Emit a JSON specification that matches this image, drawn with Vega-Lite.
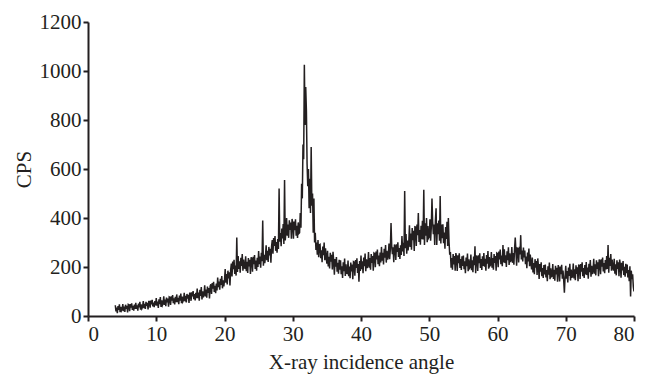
{
  "$schema": "https://vega.github.io/schema/vega-lite/v6.json",
  "width": 546,
  "height": 294,
  "autosize": {"type": "none"},
  "padding": {"left": 88, "top": 22, "right": 12, "bottom": 59},
  "background": "white",
  "config": {
    "view": {"stroke": null},
    "axis": {
      "labelFont": "Liberation Serif", "titleFont": "Liberation Serif",
      "labelFontSize": 21, "titleFontSize": 21, "titleFontWeight": "normal",
      "labelColor": "#231f20", "titleColor": "#231f20",
      "domainColor": "#231f20", "tickColor": "#231f20",
      "domainWidth": 2, "tickWidth": 2, "tickSize": 5, "grid": false, "labelPadding": 2
    }
  },
  "data": {"values": [
{"angle":4.0,"cps":44},{"angle":4.1,"cps":19},{"angle":4.2,"cps":34},{"angle":4.3,"cps":12},{"angle":4.4,"cps":41},{"angle":4.5,"cps":25},{"angle":4.6,"cps":48},{"angle":4.7,"cps":16},{"angle":4.8,"cps":37},{"angle":4.9,"cps":21},
{"angle":5.0,"cps":26},{"angle":5.1,"cps":49},{"angle":5.2,"cps":20},{"angle":5.3,"cps":38},{"angle":5.4,"cps":17},{"angle":5.5,"cps":46},{"angle":5.6,"cps":29},{"angle":5.7,"cps":42},{"angle":5.8,"cps":15},{"angle":5.9,"cps":47},
{"angle":6.0,"cps":45},{"angle":6.1,"cps":20},{"angle":6.2,"cps":49},{"angle":6.3,"cps":34},{"angle":6.4,"cps":52},{"angle":6.5,"cps":25},{"angle":6.6,"cps":41},{"angle":6.7,"cps":22},{"angle":6.8,"cps":47},{"angle":6.9,"cps":29},
{"angle":7.0,"cps":54},{"angle":7.1,"cps":29},{"angle":7.2,"cps":44},{"angle":7.3,"cps":22},{"angle":7.4,"cps":51},{"angle":7.5,"cps":35},{"angle":7.6,"cps":58},{"angle":7.7,"cps":26},{"angle":7.8,"cps":47},{"angle":7.9,"cps":31},
{"angle":8.0,"cps":38},{"angle":8.1,"cps":61},{"angle":8.2,"cps":32},{"angle":8.3,"cps":50},{"angle":8.4,"cps":29},{"angle":8.5,"cps":58},{"angle":8.6,"cps":41},{"angle":8.7,"cps":54},{"angle":8.8,"cps":27},{"angle":8.9,"cps":59},
{"angle":9.0,"cps":59},{"angle":9.1,"cps":34},{"angle":9.2,"cps":63},{"angle":9.3,"cps":48},{"angle":9.4,"cps":66},{"angle":9.5,"cps":39},{"angle":9.6,"cps":55},{"angle":9.7,"cps":36},{"angle":9.8,"cps":61},{"angle":9.9,"cps":43},
{"angle":10.0,"cps":73},{"angle":10.1,"cps":42},{"angle":10.2,"cps":59},{"angle":10.3,"cps":33},{"angle":10.4,"cps":68},{"angle":10.5,"cps":48},{"angle":10.6,"cps":77},{"angle":10.7,"cps":37},{"angle":10.8,"cps":64},{"angle":10.9,"cps":44},
{"angle":11.0,"cps":51},{"angle":11.1,"cps":80},{"angle":11.2,"cps":45},{"angle":11.3,"cps":67},{"angle":11.4,"cps":40},{"angle":11.5,"cps":75},{"angle":11.6,"cps":56},{"angle":11.7,"cps":71},{"angle":11.8,"cps":38},{"angle":11.9,"cps":78},
{"angle":12.0,"cps":76},{"angle":12.1,"cps":45},{"angle":12.2,"cps":80},{"angle":12.3,"cps":63},{"angle":12.4,"cps":85},{"angle":12.5,"cps":52},{"angle":12.6,"cps":72},{"angle":12.7,"cps":47},{"angle":12.8,"cps":78},{"angle":12.9,"cps":56},
{"angle":13.0,"cps":88},{"angle":13.1,"cps":57},{"angle":13.2,"cps":74},{"angle":13.3,"cps":48},{"angle":13.4,"cps":83},{"angle":13.5,"cps":63},{"angle":13.6,"cps":92},{"angle":13.7,"cps":52},{"angle":13.8,"cps":79},{"angle":13.9,"cps":59},
{"angle":14.0,"cps":66},{"angle":14.1,"cps":95},{"angle":14.2,"cps":60},{"angle":14.3,"cps":82},{"angle":14.4,"cps":55},{"angle":14.5,"cps":90},{"angle":14.6,"cps":71},{"angle":14.7,"cps":86},{"angle":14.8,"cps":53},{"angle":14.9,"cps":93},
{"angle":15.0,"cps":93},{"angle":15.1,"cps":62},{"angle":15.2,"cps":97},{"angle":15.3,"cps":80},{"angle":15.4,"cps":102},{"angle":15.5,"cps":69},{"angle":15.6,"cps":89},{"angle":15.7,"cps":64},{"angle":15.8,"cps":95},{"angle":15.9,"cps":73},
{"angle":16.0,"cps":112},{"angle":16.1,"cps":73},{"angle":16.2,"cps":96},{"angle":16.3,"cps":62},{"angle":16.4,"cps":107},{"angle":16.5,"cps":82},{"angle":16.6,"cps":118},{"angle":16.7,"cps":68},{"angle":16.8,"cps":101},{"angle":16.9,"cps":76},
{"angle":17.0,"cps":89},{"angle":17.1,"cps":125},{"angle":17.2,"cps":80},{"angle":17.3,"cps":108},{"angle":17.4,"cps":75},{"angle":17.5,"cps":120},{"angle":17.6,"cps":94},{"angle":17.7,"cps":114},{"angle":17.8,"cps":72},{"angle":17.9,"cps":122},
{"angle":18.0,"cps":129},{"angle":18.1,"cps":90},{"angle":18.2,"cps":135},{"angle":18.3,"cps":112},{"angle":18.4,"cps":140},{"angle":18.5,"cps":98},{"angle":18.6,"cps":123},{"angle":18.7,"cps":93},{"angle":18.8,"cps":132},{"angle":18.9,"cps":104},
{"angle":19.0,"cps":157},{"angle":19.1,"cps":118},{"angle":19.2,"cps":141},{"angle":19.3,"cps":107},{"angle":19.4,"cps":152},{"angle":19.5,"cps":127},{"angle":19.6,"cps":163},{"angle":19.7,"cps":113},{"angle":19.8,"cps":146},{"angle":19.9,"cps":121},
{"angle":20.0,"cps":146},{"angle":20.1,"cps":192},{"angle":20.2,"cps":136},{"angle":20.3,"cps":171},{"angle":20.4,"cps":129},{"angle":20.5,"cps":185},{"angle":20.6,"cps":153},{"angle":20.7,"cps":178},{"angle":20.8,"cps":125},{"angle":20.9,"cps":188},
{"angle":21.0,"cps":214},{"angle":21.1,"cps":161},{"angle":21.2,"cps":222},{"angle":21.3,"cps":191},{"angle":21.4,"cps":229},{"angle":21.5,"cps":172},{"angle":21.6,"cps":206},{"angle":21.7,"cps":165},{"angle":21.8,"cps":320},{"angle":21.9,"cps":180},
{"angle":22.0,"cps":245},{"angle":22.1,"cps":192},{"angle":22.2,"cps":223},{"angle":22.3,"cps":177},{"angle":22.4,"cps":238},{"angle":22.5,"cps":204},{"angle":22.6,"cps":253},{"angle":22.7,"cps":185},{"angle":22.8,"cps":230},{"angle":22.9,"cps":196},
{"angle":23.0,"cps":195},{"angle":23.1,"cps":244},{"angle":23.2,"cps":183},{"angle":23.3,"cps":221},{"angle":23.4,"cps":176},{"angle":23.5,"cps":237},{"angle":23.6,"cps":202},{"angle":23.7,"cps":229},{"angle":23.8,"cps":172},{"angle":23.9,"cps":240},
{"angle":24.0,"cps":234},{"angle":24.1,"cps":181},{"angle":24.2,"cps":242},{"angle":24.3,"cps":211},{"angle":24.4,"cps":249},{"angle":24.5,"cps":192},{"angle":24.6,"cps":226},{"angle":24.7,"cps":185},{"angle":24.8,"cps":238},{"angle":24.9,"cps":200},
{"angle":25.0,"cps":265},{"angle":25.1,"cps":212},{"angle":25.2,"cps":243},{"angle":25.3,"cps":197},{"angle":25.4,"cps":258},{"angle":25.5,"cps":224},{"angle":25.6,"cps":390},{"angle":25.7,"cps":205},{"angle":25.8,"cps":250},{"angle":25.9,"cps":216},
{"angle":26.0,"cps":240},{"angle":26.1,"cps":289},{"angle":26.2,"cps":228},{"angle":26.3,"cps":266},{"angle":26.4,"cps":221},{"angle":26.5,"cps":282},{"angle":26.6,"cps":247},{"angle":26.7,"cps":274},{"angle":26.8,"cps":217},{"angle":26.9,"cps":285},
{"angle":27.0,"cps":310},{"angle":27.1,"cps":254},{"angle":27.2,"cps":318},{"angle":27.3,"cps":286},{"angle":27.4,"cps":326},{"angle":27.5,"cps":266},{"angle":27.6,"cps":302},{"angle":27.7,"cps":258},{"angle":27.8,"cps":314},{"angle":27.9,"cps":274},
{"angle":28.0,"cps":520},{"angle":28.1,"cps":303},{"angle":28.2,"cps":339},{"angle":28.3,"cps":285},{"angle":28.4,"cps":357},{"angle":28.5,"cps":317},{"angle":28.6,"cps":375},{"angle":28.7,"cps":294},{"angle":28.8,"cps":555},{"angle":28.9,"cps":308},
{"angle":29.0,"cps":342},{"angle":29.1,"cps":400},{"angle":29.2,"cps":328},{"angle":29.3,"cps":373},{"angle":29.4,"cps":319},{"angle":29.5,"cps":391},{"angle":29.6,"cps":351},{"angle":29.7,"cps":382},{"angle":29.8,"cps":315},{"angle":29.9,"cps":396},
{"angle":30.0,"cps":377},{"angle":30.1,"cps":315},{"angle":30.2,"cps":386},{"angle":30.3,"cps":350},{"angle":30.4,"cps":395},{"angle":30.5,"cps":328},{"angle":30.6,"cps":368},{"angle":30.7,"cps":319},{"angle":30.8,"cps":382},{"angle":30.9,"cps":337},
{"angle":31.0,"cps":340},{"angle":31.1,"cps":420},{"angle":31.2,"cps":360},{"angle":31.3,"cps":540},{"angle":31.4,"cps":480},{"angle":31.5,"cps":700},{"angle":31.6,"cps":640},{"angle":31.7,"cps":1025},{"angle":31.8,"cps":780},{"angle":31.9,"cps":935},
{"angle":32.0,"cps":840},{"angle":32.1,"cps":620},{"angle":32.2,"cps":530},{"angle":32.3,"cps":600},{"angle":32.4,"cps":440},{"angle":32.5,"cps":560},{"angle":32.6,"cps":420},{"angle":32.7,"cps":690},{"angle":32.8,"cps":450},{"angle":32.9,"cps":500},
{"angle":33.0,"cps":340},{"angle":33.1,"cps":480},{"angle":33.2,"cps":300},{"angle":33.3,"cps":340},{"angle":33.4,"cps":270},{"angle":33.5,"cps":300},{"angle":33.6,"cps":250},{"angle":33.7,"cps":310},{"angle":33.8,"cps":240},{"angle":33.9,"cps":290},
{"angle":34.0,"cps":292},{"angle":34.1,"cps":236},{"angle":34.2,"cps":268},{"angle":34.3,"cps":220},{"angle":34.4,"cps":284},{"angle":34.5,"cps":248},{"angle":34.6,"cps":300},{"angle":34.7,"cps":228},{"angle":34.8,"cps":276},{"angle":34.9,"cps":240},
{"angle":35.0,"cps":214},{"angle":35.1,"cps":266},{"angle":35.2,"cps":202},{"angle":35.3,"cps":242},{"angle":35.4,"cps":194},{"angle":35.5,"cps":258},{"angle":35.6,"cps":222},{"angle":35.7,"cps":250},{"angle":35.8,"cps":190},{"angle":35.9,"cps":262},
{"angle":36.0,"cps":225},{"angle":36.1,"cps":169},{"angle":36.2,"cps":233},{"angle":36.3,"cps":201},{"angle":36.4,"cps":241},{"angle":36.5,"cps":181},{"angle":36.6,"cps":217},{"angle":36.7,"cps":173},{"angle":36.8,"cps":229},{"angle":36.9,"cps":189},
{"angle":37.0,"cps":227},{"angle":37.1,"cps":171},{"angle":37.2,"cps":203},{"angle":37.3,"cps":155},{"angle":37.4,"cps":219},{"angle":37.5,"cps":183},{"angle":37.6,"cps":235},{"angle":37.7,"cps":163},{"angle":37.8,"cps":211},{"angle":37.9,"cps":175},
{"angle":38.0,"cps":174},{"angle":38.1,"cps":226},{"angle":38.2,"cps":162},{"angle":38.3,"cps":202},{"angle":38.4,"cps":154},{"angle":38.5,"cps":218},{"angle":38.6,"cps":182},{"angle":38.7,"cps":210},{"angle":38.8,"cps":150},{"angle":38.9,"cps":222},
{"angle":39.0,"cps":220},{"angle":39.1,"cps":164},{"angle":39.2,"cps":228},{"angle":39.3,"cps":196},{"angle":39.4,"cps":236},{"angle":39.5,"cps":176},{"angle":39.6,"cps":212},{"angle":39.7,"cps":140},{"angle":39.8,"cps":224},{"angle":39.9,"cps":184},
{"angle":40.0,"cps":247},{"angle":40.1,"cps":191},{"angle":40.2,"cps":223},{"angle":40.3,"cps":175},{"angle":40.4,"cps":239},{"angle":40.5,"cps":203},{"angle":40.6,"cps":255},{"angle":40.7,"cps":183},{"angle":40.8,"cps":231},{"angle":40.9,"cps":195},
{"angle":41.0,"cps":209},{"angle":41.1,"cps":261},{"angle":41.2,"cps":197},{"angle":41.3,"cps":237},{"angle":41.4,"cps":189},{"angle":41.5,"cps":253},{"angle":41.6,"cps":217},{"angle":41.7,"cps":245},{"angle":41.8,"cps":185},{"angle":41.9,"cps":257},
{"angle":42.0,"cps":255},{"angle":42.1,"cps":199},{"angle":42.2,"cps":263},{"angle":42.3,"cps":231},{"angle":42.4,"cps":271},{"angle":42.5,"cps":211},{"angle":42.6,"cps":247},{"angle":42.7,"cps":203},{"angle":42.8,"cps":259},{"angle":42.9,"cps":219},
{"angle":43.0,"cps":282},{"angle":43.1,"cps":226},{"angle":43.2,"cps":258},{"angle":43.3,"cps":210},{"angle":43.4,"cps":274},{"angle":43.5,"cps":238},{"angle":43.6,"cps":290},{"angle":43.7,"cps":218},{"angle":43.8,"cps":266},{"angle":43.9,"cps":230},
{"angle":44.0,"cps":244},{"angle":44.1,"cps":296},{"angle":44.2,"cps":232},{"angle":44.3,"cps":272},{"angle":44.4,"cps":380},{"angle":44.5,"cps":288},{"angle":44.6,"cps":252},{"angle":44.7,"cps":280},{"angle":44.8,"cps":220},{"angle":44.9,"cps":292},
{"angle":45.0,"cps":285},{"angle":45.1,"cps":229},{"angle":45.2,"cps":293},{"angle":45.3,"cps":261},{"angle":45.4,"cps":301},{"angle":45.5,"cps":241},{"angle":45.6,"cps":277},{"angle":45.7,"cps":233},{"angle":45.8,"cps":289},{"angle":45.9,"cps":249},
{"angle":46.0,"cps":326},{"angle":46.1,"cps":263},{"angle":46.2,"cps":299},{"angle":46.3,"cps":245},{"angle":46.4,"cps":510},{"angle":46.5,"cps":277},{"angle":46.6,"cps":335},{"angle":46.7,"cps":254},{"angle":46.8,"cps":308},{"angle":46.9,"cps":268},
{"angle":47.0,"cps":298},{"angle":47.1,"cps":370},{"angle":47.2,"cps":282},{"angle":47.3,"cps":337},{"angle":47.4,"cps":271},{"angle":47.5,"cps":359},{"angle":47.6,"cps":309},{"angle":47.7,"cps":348},{"angle":47.8,"cps":265},{"angle":47.9,"cps":364},
{"angle":48.0,"cps":363},{"angle":48.1,"cps":286},{"angle":48.2,"cps":373},{"angle":48.3,"cps":330},{"angle":48.4,"cps":420},{"angle":48.5,"cps":302},{"angle":48.6,"cps":351},{"angle":48.7,"cps":291},{"angle":48.8,"cps":368},{"angle":48.9,"cps":313},
{"angle":49.0,"cps":389},{"angle":49.1,"cps":312},{"angle":49.2,"cps":515},{"angle":49.3,"cps":290},{"angle":49.4,"cps":378},{"angle":49.5,"cps":328},{"angle":49.6,"cps":400},{"angle":49.7,"cps":301},{"angle":49.8,"cps":367},{"angle":49.9,"cps":318},
{"angle":50.0,"cps":323},{"angle":50.1,"cps":395},{"angle":50.2,"cps":307},{"angle":50.3,"cps":362},{"angle":50.4,"cps":480},{"angle":50.5,"cps":384},{"angle":50.6,"cps":334},{"angle":50.7,"cps":373},{"angle":50.8,"cps":290},{"angle":50.9,"cps":389},
{"angle":51.0,"cps":440},{"angle":51.1,"cps":290},{"angle":51.2,"cps":378},{"angle":51.3,"cps":334},{"angle":51.4,"cps":390},{"angle":51.5,"cps":307},{"angle":51.6,"cps":490},{"angle":51.7,"cps":296},{"angle":51.8,"cps":373},{"angle":51.9,"cps":318},
{"angle":52.0,"cps":374},{"angle":52.1,"cps":297},{"angle":52.2,"cps":341},{"angle":52.3,"cps":275},{"angle":52.4,"cps":363},{"angle":52.5,"cps":314},{"angle":52.6,"cps":385},{"angle":52.7,"cps":286},{"angle":52.8,"cps":400},{"angle":52.9,"cps":303},
{"angle":53.0,"cps":250},{"angle":53.1,"cps":261},{"angle":53.2,"cps":197},{"angle":53.3,"cps":237},{"angle":53.4,"cps":189},{"angle":53.5,"cps":253},{"angle":53.6,"cps":210},{"angle":53.7,"cps":245},{"angle":53.8,"cps":185},{"angle":53.9,"cps":257},
{"angle":54.0,"cps":240},{"angle":54.1,"cps":184},{"angle":54.2,"cps":248},{"angle":54.3,"cps":216},{"angle":54.4,"cps":256},{"angle":54.5,"cps":196},{"angle":54.6,"cps":232},{"angle":54.7,"cps":188},{"angle":54.8,"cps":244},{"angle":54.9,"cps":204},
{"angle":55.0,"cps":247},{"angle":55.1,"cps":191},{"angle":55.2,"cps":223},{"angle":55.3,"cps":175},{"angle":55.4,"cps":239},{"angle":55.5,"cps":203},{"angle":55.6,"cps":255},{"angle":55.7,"cps":183},{"angle":55.8,"cps":231},{"angle":55.9,"cps":195},
{"angle":56.0,"cps":199},{"angle":56.1,"cps":251},{"angle":56.2,"cps":187},{"angle":56.3,"cps":227},{"angle":56.4,"cps":179},{"angle":56.5,"cps":243},{"angle":56.6,"cps":207},{"angle":56.7,"cps":285},{"angle":56.8,"cps":175},{"angle":56.9,"cps":247},
{"angle":57.0,"cps":240},{"angle":57.1,"cps":184},{"angle":57.2,"cps":248},{"angle":57.3,"cps":216},{"angle":57.4,"cps":256},{"angle":57.5,"cps":196},{"angle":57.6,"cps":232},{"angle":57.7,"cps":188},{"angle":57.8,"cps":244},{"angle":57.9,"cps":204},
{"angle":58.0,"cps":257},{"angle":58.1,"cps":201},{"angle":58.2,"cps":233},{"angle":58.3,"cps":185},{"angle":58.4,"cps":249},{"angle":58.5,"cps":213},{"angle":58.6,"cps":265},{"angle":58.7,"cps":193},{"angle":58.8,"cps":241},{"angle":58.9,"cps":205},
{"angle":59.0,"cps":209},{"angle":59.1,"cps":261},{"angle":59.2,"cps":197},{"angle":59.3,"cps":237},{"angle":59.4,"cps":189},{"angle":59.5,"cps":253},{"angle":59.6,"cps":217},{"angle":59.7,"cps":245},{"angle":59.8,"cps":185},{"angle":59.9,"cps":257},
{"angle":60.0,"cps":255},{"angle":60.1,"cps":199},{"angle":60.2,"cps":263},{"angle":60.3,"cps":231},{"angle":60.4,"cps":271},{"angle":60.5,"cps":211},{"angle":60.6,"cps":247},{"angle":60.7,"cps":203},{"angle":60.8,"cps":290},{"angle":60.9,"cps":219},
{"angle":61.0,"cps":272},{"angle":61.1,"cps":216},{"angle":61.2,"cps":248},{"angle":61.3,"cps":200},{"angle":61.4,"cps":264},{"angle":61.5,"cps":228},{"angle":61.6,"cps":280},{"angle":61.7,"cps":208},{"angle":61.8,"cps":256},{"angle":61.9,"cps":220},
{"angle":62.0,"cps":229},{"angle":62.1,"cps":281},{"angle":62.2,"cps":217},{"angle":62.3,"cps":257},{"angle":62.4,"cps":209},{"angle":62.5,"cps":273},{"angle":62.6,"cps":320},{"angle":62.7,"cps":265},{"angle":62.8,"cps":205},{"angle":62.9,"cps":277},
{"angle":63.0,"cps":275},{"angle":63.1,"cps":219},{"angle":63.2,"cps":283},{"angle":63.3,"cps":251},{"angle":63.4,"cps":330},{"angle":63.5,"cps":231},{"angle":63.6,"cps":267},{"angle":63.7,"cps":223},{"angle":63.8,"cps":279},{"angle":63.9,"cps":239},
{"angle":64.0,"cps":267},{"angle":64.1,"cps":211},{"angle":64.2,"cps":243},{"angle":64.3,"cps":195},{"angle":64.4,"cps":259},{"angle":64.5,"cps":223},{"angle":64.6,"cps":275},{"angle":64.7,"cps":203},{"angle":64.8,"cps":251},{"angle":64.9,"cps":215},
{"angle":65.0,"cps":190},{"angle":65.1,"cps":239},{"angle":65.2,"cps":178},{"angle":65.3,"cps":216},{"angle":65.4,"cps":171},{"angle":65.5,"cps":232},{"angle":65.6,"cps":197},{"angle":65.7,"cps":224},{"angle":65.8,"cps":167},{"angle":65.9,"cps":235},
{"angle":66.0,"cps":204},{"angle":66.1,"cps":151},{"angle":66.2,"cps":212},{"angle":66.3,"cps":181},{"angle":66.4,"cps":219},{"angle":66.5,"cps":162},{"angle":66.6,"cps":196},{"angle":66.7,"cps":155},{"angle":66.8,"cps":208},{"angle":66.9,"cps":170},
{"angle":67.0,"cps":210},{"angle":67.1,"cps":157},{"angle":67.2,"cps":188},{"angle":67.3,"cps":142},{"angle":67.4,"cps":203},{"angle":67.5,"cps":169},{"angle":67.6,"cps":218},{"angle":67.7,"cps":150},{"angle":67.8,"cps":195},{"angle":67.9,"cps":161},
{"angle":68.0,"cps":163},{"angle":68.1,"cps":212},{"angle":68.2,"cps":151},{"angle":68.3,"cps":189},{"angle":68.4,"cps":144},{"angle":68.5,"cps":205},{"angle":68.6,"cps":170},{"angle":68.7,"cps":197},{"angle":68.8,"cps":140},{"angle":68.9,"cps":208},
{"angle":69.0,"cps":194},{"angle":69.1,"cps":141},{"angle":69.2,"cps":202},{"angle":69.3,"cps":171},{"angle":69.4,"cps":209},{"angle":69.5,"cps":152},{"angle":69.6,"cps":186},{"angle":69.7,"cps":145},{"angle":69.8,"cps":95},{"angle":69.9,"cps":160},
{"angle":70.0,"cps":205},{"angle":70.1,"cps":152},{"angle":70.2,"cps":183},{"angle":70.3,"cps":137},{"angle":70.4,"cps":198},{"angle":70.5,"cps":164},{"angle":70.6,"cps":213},{"angle":70.7,"cps":145},{"angle":70.8,"cps":190},{"angle":70.9,"cps":156},
{"angle":71.0,"cps":165},{"angle":71.1,"cps":214},{"angle":71.2,"cps":153},{"angle":71.3,"cps":191},{"angle":71.4,"cps":146},{"angle":71.5,"cps":207},{"angle":71.6,"cps":172},{"angle":71.7,"cps":199},{"angle":71.8,"cps":142},{"angle":71.9,"cps":210},
{"angle":72.0,"cps":204},{"angle":72.1,"cps":151},{"angle":72.2,"cps":212},{"angle":72.3,"cps":181},{"angle":72.4,"cps":219},{"angle":72.5,"cps":162},{"angle":72.6,"cps":196},{"angle":72.7,"cps":155},{"angle":72.8,"cps":208},{"angle":72.9,"cps":170},
{"angle":73.0,"cps":220},{"angle":73.1,"cps":167},{"angle":73.2,"cps":198},{"angle":73.3,"cps":152},{"angle":73.4,"cps":213},{"angle":73.5,"cps":179},{"angle":73.6,"cps":228},{"angle":73.7,"cps":160},{"angle":73.8,"cps":205},{"angle":73.9,"cps":171},
{"angle":74.0,"cps":185},{"angle":74.1,"cps":234},{"angle":74.2,"cps":173},{"angle":74.3,"cps":211},{"angle":74.4,"cps":166},{"angle":74.5,"cps":227},{"angle":74.6,"cps":192},{"angle":74.7,"cps":219},{"angle":74.8,"cps":162},{"angle":74.9,"cps":230},
{"angle":75.0,"cps":224},{"angle":75.1,"cps":171},{"angle":75.2,"cps":232},{"angle":75.3,"cps":201},{"angle":75.4,"cps":239},{"angle":75.5,"cps":182},{"angle":75.6,"cps":216},{"angle":75.7,"cps":175},{"angle":75.8,"cps":228},{"angle":75.9,"cps":190},
{"angle":76.0,"cps":245},{"angle":76.1,"cps":192},{"angle":76.2,"cps":290},{"angle":76.3,"cps":177},{"angle":76.4,"cps":238},{"angle":76.5,"cps":204},{"angle":76.6,"cps":253},{"angle":76.7,"cps":185},{"angle":76.8,"cps":230},{"angle":76.9,"cps":196},
{"angle":77.0,"cps":185},{"angle":77.1,"cps":234},{"angle":77.2,"cps":173},{"angle":77.3,"cps":211},{"angle":77.4,"cps":166},{"angle":77.5,"cps":227},{"angle":77.6,"cps":192},{"angle":77.7,"cps":219},{"angle":77.8,"cps":162},{"angle":77.9,"cps":230},
{"angle":78.0,"cps":209},{"angle":78.1,"cps":156},{"angle":78.2,"cps":217},{"angle":78.3,"cps":186},{"angle":78.4,"cps":224},{"angle":78.5,"cps":167},{"angle":78.6,"cps":201},{"angle":78.7,"cps":160},{"angle":78.8,"cps":213},{"angle":78.9,"cps":175},
{"angle":79.0,"cps":210},{"angle":79.1,"cps":157},{"angle":79.2,"cps":188},{"angle":79.3,"cps":142},{"angle":79.4,"cps":203},{"angle":79.5,"cps":80},{"angle":79.6,"cps":185},{"angle":79.7,"cps":150},{"angle":79.8,"cps":170},{"angle":79.9,"cps":120},
{"angle":80.0,"cps":100}
  ]},
  "mark": {"type": "line", "color": "#231f20", "strokeWidth": 1.5, "clip": true},
  "encoding": {
    "x": {"field": "angle", "type": "quantitative", "scale": {"domain": [0, 80], "nice": false, "zero": false},
          "axis": {"values": [0,10,20,30,40,50,60,70,80], "format": "d", "title": "X-ray incidence angle", "titlePadding": 7,
                   "labelFont": "Liberation Serif", "labelFontSize": 21, "titleFont": "Liberation Serif", "titleFontSize": 21}},
    "y": {"field": "cps", "type": "quantitative", "scale": {"domain": [0, 1200], "nice": false},
          "axis": {"values": [0,200,400,600,800,1000,1200], "format": "d", "title": "CPS", "titlePadding": 5,
                   "labelFont": "Liberation Serif", "labelFontSize": 21, "titleFont": "Liberation Serif", "titleFontSize": 21}}
  }
}
